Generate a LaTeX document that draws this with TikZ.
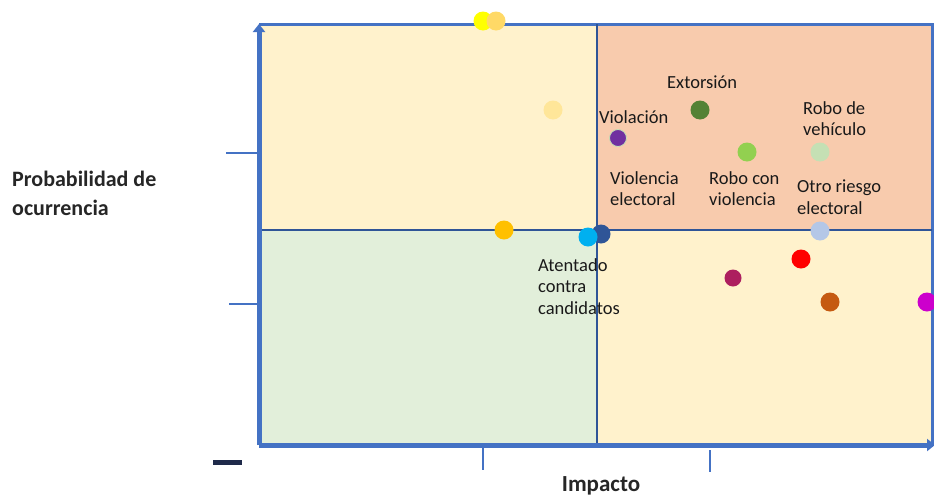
\documentclass[tikz,border=0pt]{standalone}
\usepackage{fontspec}
\setmainfont{Carlito}
\usetikzlibrary{arrows.meta}
\definecolor{axisblue}{HTML}{4472C4}
\definecolor{divblue}{HTML}{2F5597}
\definecolor{qyellow}{HTML}{FFF2CC}
\definecolor{qpeach}{HTML}{F8CBAD}
\definecolor{qgreen}{HTML}{E2EFDA}
\definecolor{cYellow}{HTML}{FFFF00}
\definecolor{cLightOrange}{HTML}{FFD966}
\definecolor{cPaleYellow}{HTML}{FFE699}
\definecolor{cGold}{HTML}{FFC000}
\definecolor{cSky}{HTML}{00B0F0}
\definecolor{cNavy}{HTML}{2F5597}
\definecolor{cPurple}{HTML}{7030A0}
\definecolor{cDarkGreen}{HTML}{548235}
\definecolor{cLightGreen}{HTML}{92D050}
\definecolor{cPaleGreen}{HTML}{C5E0B4}
\definecolor{cPaleBlue}{HTML}{B4C7E7}
\definecolor{cRed}{HTML}{FF0000}
\definecolor{cMaroon}{HTML}{AD1F5F}
\definecolor{cBrown}{HTML}{C55A11}
\definecolor{cMagenta}{HTML}{CC00CC}
\definecolor{minusnavy}{HTML}{1F2A4A}
\tikzset{
  dot/.style={circle, inner sep=0pt, minimum size=19pt, fill=#1},
  lbl/.style={anchor=north west, align=left, inner sep=0pt, font=\fontsize{18.5}{21.5}\selectfont, text=black!90},
  ttl/.style={inner sep=0pt, align=left, font=\fontsize{22}{29}\selectfont\bfseries, text=black!85},
  tick/.style={draw=axisblue, line width=2pt},
}
\begin{document}
\begin{tikzpicture}[x=1pt, y=-1pt]
\useasboundingbox (0,0) rectangle (934,498);
% quadrants
\fill[qyellow] (259,24) rectangle (597,230);
\fill[qpeach] (597,24) rectangle (932,230);
\fill[qgreen] (259,230) rectangle (597,445);
\fill[qyellow] (597,230) rectangle (932,445);
% named corners
\coordinate (o) at (259,445);
\coordinate (ytop) at (259,24);
\coordinate (xend) at (935,445);
\coordinate (tr) at (932,24);
\coordinate (br) at (932,445);
\coordinate (mt) at (597,24);
\coordinate (mb) at (597,445);
\coordinate (ml) at (259,230);
\coordinate (mr) at (932,230);
% borders and dividers
\draw[axisblue, line width=3pt] (ytop) -- (tr) -- (br);
\draw[divblue, line width=2.5pt] (mt) -- (mb);
\draw[divblue, line width=2.5pt] (ml) -- (mr);
% axes
\draw[axisblue, line width=5pt, -{Triangle[length=8pt,width=12pt]}] (o) -- (ytop);
\draw[axisblue, line width=5pt, -{Triangle[length=8pt,width=12pt]}] (o) -- (xend);
% ticks
\coordinate (t1a) at (226,153); \coordinate (t1b) at (257,153);
\coordinate (t2a) at (229,304); \coordinate (t2b) at (257,304);
\coordinate (t3a) at (483,447); \coordinate (t3b) at (483,470);
\coordinate (t4a) at (710,450); \coordinate (t4b) at (710,472);
\draw[tick] (t1a) -- (t1b);
\draw[tick] (t2a) -- (t2b);
\draw[tick] (t3a) -- (t3b);
\draw[tick] (t4a) -- (t4b);
% minus sign
\coordinate (m1) at (213,462); \coordinate (m2) at (242,462);
\draw[minusnavy, line width=5pt] (m1) -- (m2);
% dots
\node[dot=cYellow] (d1) at (483,21) {};
\node[dot=cLightOrange] (d2) at (496,21) {};
\node[dot=cPaleYellow] (d3) at (553,110) {};
\node[dot=cGold] (d4) at (504,230) {};
\node[dot=cNavy] (d6) at (601,234) {};
\node[dot=cSky] (d5) at (588,237) {};
\node[dot=cPurple, minimum size=17pt, draw=cPaleGreen, line width=0.8pt] (d7) at (618,138) {};
\node[dot=cDarkGreen] (d8) at (700,110) {};
\node[dot=cLightGreen] (d9) at (747,152) {};
\node[dot=cPaleGreen] (d10) at (820,152) {};
\node[dot=cPaleBlue] (d11) at (820,231) {};
\node[dot=cRed] (d12) at (801,259) {};
\node[dot=cMaroon, minimum size=17pt] (d13) at (733,278) {};
\node[dot=cBrown] (d14) at (830,302) {};
\node[dot=cMagenta] (d15) at (927,302) {};
% labels
\node[lbl] (l1) at (667,76) {Extorsión};
\node[lbl] (l2) at (599,110) {Violación};
\node[lbl] (l3) at (803,101) {Robo de\\vehículo};
\node[lbl] (l4) at (610,171) {Violencia\\electoral};
\node[lbl] (l5) at (709,171) {Robo con\\violencia};
\node[lbl] (l6) at (797,180) {Otro riesgo\\electoral};
\node[lbl] (l7) at (538,258) {Atentado\\contra\\candidatos};
% axis titles
\node[ttl, anchor=north west] (yl) at (12,171) {Probabilidad de\\ocurrencia};
\node[ttl, anchor=north, font=\fontsize{23}{27}\selectfont\bfseries] (xl) at (601,476) {Impacto};
\end{tikzpicture}
\end{document}
